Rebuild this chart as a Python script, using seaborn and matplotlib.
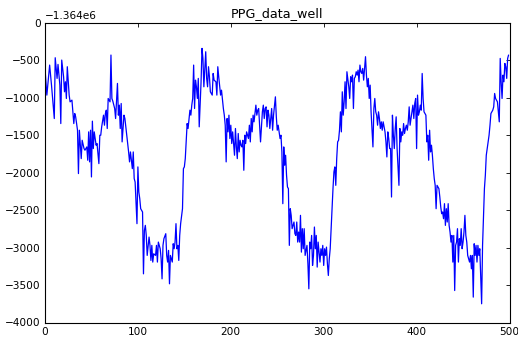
import numpy as np
import pandas as pd
import matplotlib
matplotlib.use("Agg")
import matplotlib.pyplot as plt
import seaborn as sns
from matplotlib.ticker import ScalarFormatter

# ---- data ----
BASE = -1364000
title = "PPG_data_well"
x_ticks = [0, 100, 200, 300, 400, 500]
y_ticks = [-4000, -3500, -3000, -2500, -2000, -1500, -1000, -500, 0]

sample_index = [
    0, 2, 5, 7, 10, 11, 13, 14, 16, 17,
    18, 20, 21, 22, 23, 24, 26, 27, 29, 31,
    32, 33, 35, 36, 37, 39, 40, 42, 43, 45,
    46, 47, 48, 49, 50, 51, 52, 53, 54, 55,
    56, 58, 59, 60, 61, 63, 64, 65, 66, 67,
    68, 70, 71, 72, 73, 75, 76, 78, 79, 80,
    81, 82, 83, 85, 86, 88, 90, 91, 92, 94,
    95, 96, 97, 99, 100, 101, 102, 103, 105, 106,
    107, 108, 109, 110, 112, 113, 114, 115, 116, 117,
    119, 120, 121, 122, 124, 125, 126, 127, 128, 130,
    131, 132, 133, 134, 135, 137, 138, 139, 140, 141,
    142, 143, 144, 145, 146, 148, 149, 150, 151, 152,
    153, 154, 156, 157, 158, 159, 160, 161, 162, 163,
    164, 165, 166, 168, 169, 170, 171, 173, 174, 175,
    176, 177, 178, 180, 181, 182, 184, 185, 186, 187,
    189, 190, 192, 193, 194, 195, 196, 197, 198, 199,
    200, 201, 202, 204, 205, 206, 207, 208, 209, 210,
    211, 212, 213, 214, 215, 216, 217, 219, 220, 221,
    222, 223, 224, 225, 226, 227, 228, 229, 230, 231,
    232, 234, 235, 236, 237, 238, 239, 240, 241, 242,
    243, 244, 245, 246, 248, 249, 250, 251, 253, 254,
    255, 256, 257, 258, 259, 260, 261, 262, 263, 264,
    265, 266, 268, 269, 270, 271, 272, 273, 274, 275,
    276, 277, 278, 279, 280, 282, 283, 284, 285, 286,
    287, 288, 289, 290, 291, 292, 293, 294, 296, 297,
    298, 299, 300, 301, 302, 303, 304, 305, 306, 307,
    308, 310, 311, 312, 313, 314, 315, 316, 317, 318,
    319, 320, 321, 322, 323, 324, 325, 327, 328, 329,
    330, 331, 332, 333, 334, 335, 336, 337, 338, 339,
    340, 341, 342, 343, 345, 346, 347, 348, 349, 350,
    351, 353, 354, 355, 356, 357, 358, 359, 360, 361,
    362, 363, 364, 366, 367, 368, 369, 370, 371, 372,
    373, 374, 375, 376, 377, 378, 379, 381, 382, 383,
    384, 385, 386, 387, 388, 389, 390, 391, 392, 393,
    395, 396, 397, 398, 399, 400, 401, 402, 403, 404,
    405, 406, 407, 408, 410, 411, 412, 413, 414, 415,
    416, 417, 418, 419, 420, 421, 422, 424, 425, 426,
    427, 428, 429, 430, 431, 432, 433, 434, 435, 436,
    437, 438, 439, 440, 441, 442, 443, 444, 445, 446,
    447, 448, 449, 450, 451, 452, 453, 454, 455, 457,
    458, 459, 460, 461, 462, 463, 464, 465, 466, 467,
    468, 470, 471, 472, 473, 474, 475, 476, 477, 478,
    479, 480, 481, 482, 483, 484, 485, 487, 488, 489,
    490, 491, 492, 493, 494, 495, 496, 497, 498, 499,
]

ppg_offset = [
    -607, -963, -562, -830, -1276, -464, -740, -553, -830, -1343,
    -495, -718, -919, -785, -1008, -584, -963, -1053, -1030, -1343,
    -1209, -1253, -1432, -2011, -1432, -1811, -1566, -1677, -1699, -1655,
    -1833, -1454, -1855, -1432, -2056, -1311, -1677, -1454, -1543, -1632,
    -1610, -1878, -1499, -1499, -1387, -1231, -1365, -1209, -1164, -1409,
    -1008, -1053, -428, -1008, -1044, -1142, -1276, -807, -1231, -1097,
    -1409, -1075, -1588, -1231, -1276, -1499, -1722, -1855, -1722, -1945,
    -1722, -2078, -2123, -2680, -1922, -2257, -2346, -2480, -2524, -3350,
    -2770, -2703, -2837, -3104, -2859, -2970, -3171, -2970, -3193, -3082,
    -3104, -2970, -3193, -2926, -3015, -3149, -3417, -2970, -2881, -2814,
    -3104, -3193, -3037, -3483, -3104, -3193, -2948, -3015, -2926, -2680,
    -3015, -2970, -3171, -2837, -2680, -2480, -1945, -1922, -1811, -1588,
    -1343, -1409, -1164, -1231, -1097, -1008, -562, -1142, -763, -852,
    -1008, -740, -1387, -785, -339, -473, -852, -384, -740, -852,
    -584, -718, -919, -963, -674, -763, -785, -963, -584, -718,
    -963, -897, -1142, -1231, -1365, -1855, -1276, -1454, -1231, -1543,
    -1365, -1610, -1454, -1766, -1409, -1655, -1811, -1476, -1722, -1566,
    -1632, -1655, -1566, -1967, -1499, -1610, -1454, -1543, -1365, -1588,
    -1276, -1454, -1231, -1320, -1209, -1097, -1231, -1164, -1142, -1365,
    -1588, -1186, -1097, -1276, -1142, -1120, -1387, -1164, -1231, -1409,
    -1276, -1142, -1432, -1231, -986, -1253, -1432, -1365, -1543, -1499,
    -1722, -2413, -1655, -1900, -1766, -2034, -2190, -2212, -2970, -2480,
    -2569, -2747, -2658, -2814, -2837, -2658, -2926, -2792, -2926, -2569,
    -3060, -2747, -3015, -2747, -3104, -2970, -3216, -3550, -2926, -3015,
    -2837, -3238, -3104, -2725, -3015, -2837, -3260, -2926, -3193, -3015,
    -3104, -2970, -3238, -3015, -3104, -2993, -3216, -3372, -3149, -3015,
    -2747, -2212, -1989, -1922, -2168, -1811, -1588, -1566, -1432, -1186,
    -1454, -919, -1231, -1053, -785, -1142, -651, -852, -1008, -718,
    -785, -696, -1142, -740, -718, -651, -696, -629, -785, -562,
    -651, -674, -607, -763, -450, -696, -852, -740, -1008, -830,
    -1186, -1655, -1142, -1008, -1186, -1231, -1365, -1186, -1276, -1409,
    -1320, -1432, -1320, -1454, -1588, -1789, -1454, -1543, -1677, -1677,
    -2324, -1231, -1499, -1677, -1409, -1253, -1677, -2168, -1409, -1588,
    -1454, -1499, -1343, -1476, -1409, -1365, -1432, -1320, -1120, -1365,
    -1186, -1097, -1276, -1075, -1008, -1677, -963, -1231, -1186, -1097,
    -1164, -674, -1008, -1186, -1231, -1588, -1499, -1833, -1432, -1722,
    -1632, -1766, -1945, -2078, -2168, -2480, -2168, -2212, -2324, -2458,
    -2547, -2524, -2614, -2413, -2703, -2480, -2658, -2413, -2703, -2792,
    -2926, -2837, -3193, -2837, -3573, -2970, -2926, -2747, -3193, -2881,
    -2970, -2747, -3015, -2926, -2792, -2569, -2837, -2926, -3104, -3193,
    -3104, -3283, -3104, -3661, -2948, -3104, -2970, -3193, -2970, -3104,
    -3015, -3750, -2970, -2569, -2212, -2034, -1766, -1677, -1588, -1499,
    -1365, -1209, -1186, -1164, -1120, -941, -1008, -1053, -1186, -1320,
    -473, -785, -1008, -696, -785, -540, -584, -740, -473, -428,
]

# ---- style ----
sns.set_theme(style="white")
plt.rcParams["font.family"] = ["DejaVu Sans"]
plt.rcParams["axes.unicode_minus"] = True

df = pd.DataFrame({"sample": sample_index,
                   "value": np.asarray(ppg_offset, dtype=float) + BASE})

W, H = 518, 337
fig = plt.figure(figsize=(W / 100, H / 100), dpi=100, facecolor="white")
ax = fig.add_axes([45 / W, 1 - 322.5 / H, (509.5 - 45) / W, (322.5 - 23) / H])
ax.set_facecolor("white")

sns.lineplot(data=df, x="sample", y="value", ax=ax, color="#0000ff",
             linewidth=0.9, errorbar=None)

ax.set_xlim(0, 500)
ax.set_ylim(BASE - 4000, BASE)
ax.set_xticks(x_ticks)
ax.set_yticks([BASE + t for t in y_ticks])
ax.yaxis.set_major_formatter(ScalarFormatter(useOffset=BASE))
ax.set_xlabel("")
ax.set_ylabel("")
ax.set_title(title, fontsize=9.2, pad=4, color="black")

ax.tick_params(direction="in", top=True, right=True, length=3, width=0.6,
               labelsize=7.6, pad=3, colors="black")
ax.yaxis.get_offset_text().set_fontsize(7.6)
for s in ax.spines.values():
    s.set_color("black")
    s.set_linewidth(0.8)
    s.set_visible(True)

fig.savefig("out.png", dpi=100, facecolor="white")
